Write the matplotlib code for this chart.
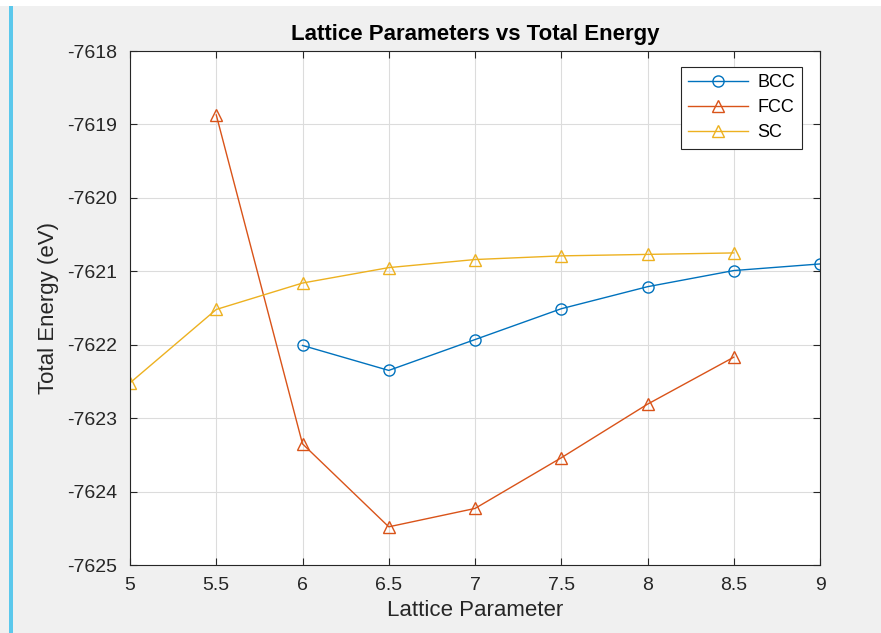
import numpy as np
import matplotlib.pyplot as plt
from matplotlib.patches import Rectangle

plt.rcParams['font.family'] = ['Liberation Sans', 'DejaVu Sans']

lattice = [5, 5.5, 6, 6.5, 7, 7.5, 8, 8.5, 9]
bcc_x = [6, 6.5, 7, 7.5, 8, 8.5, 9]
bcc_e = [-7622.01, -7622.35, -7621.93, -7621.51, -7621.21, -7620.99, -7620.90]
fcc_x = [5.5, 6, 6.5, 7, 7.5, 8, 8.5]
fcc_e = [-7618.87, -7623.35, -7624.48, -7624.23, -7623.54, -7622.81, -7622.17]
sc_x = [5, 5.5, 6, 6.5, 7, 7.5, 8, 8.5]
sc_e = [-7622.52, -7621.52, -7621.16, -7620.95, -7620.84, -7620.79, -7620.77, -7620.75]

yticks = [-7618, -7619, -7620, -7621, -7622, -7623, -7624, -7625]

fig = plt.figure(figsize=(8.81, 6.33), dpi=100)
fig.patch.set_facecolor('white')
# grey matlab window + blue stripe on the left
fig.add_artist(Rectangle((0, 0), 1, 1 - 6 / 633, transform=fig.transFigure,
                         facecolor='#f0f0f0', edgecolor='none', zorder=-10))
fig.add_artist(Rectangle((9 / 881, 0), 4 / 881, 1 - 6 / 633, transform=fig.transFigure,
                         facecolor='#5bc8ec', edgecolor='none', zorder=-9))

ax = fig.add_axes([130 / 881, 68 / 633, 690 / 881, 514 / 633])
ax.set_facecolor('white')

ax.plot(bcc_x, bcc_e, '-o', color='#0072BD', mfc='none', ms=8, lw=1, mew=1, label='BCC')
ax.plot(fcc_x, fcc_e, '-^', color='#D95319', mfc='none', ms=8, lw=1, mew=1, label='FCC')
ax.plot(sc_x, sc_e, '-^', color='#EDB120', mfc='none', ms=8, lw=1, mew=1, label='SC')

ax.set_xlim(5, 9)
ax.set_ylim(-7625, -7618)
ax.set_xticks(lattice)
ax.set_xticklabels(['5', '5.5', '6', '6.5', '7', '7.5', '8', '8.5', '9'])
ax.set_yticks(yticks)
ax.set_yticklabels([str(t) for t in yticks])
ax.grid(True, color='#dcdcdc', lw=0.8)
ax.set_axisbelow(True)
ax.tick_params(direction='in', length=5, top=True, right=True, labelsize=14,
               colors='#262626', pad=9)
for s in ax.spines.values():
    s.set_color('#262626')
    s.set_linewidth(0.8)

ax.set_title('Lattice Parameters vs Total Energy', fontsize=16, fontweight='bold', pad=8)
ax.set_xlabel('Lattice Parameter', fontsize=16, color='#262626', labelpad=4)
ax.set_ylabel('Total Energy (eV)', fontsize=16, color='#262626', labelpad=6)

leg = ax.legend(loc='upper right', bbox_to_anchor=(0.974, 0.969), borderaxespad=0,
                fancybox=False, edgecolor='#262626', framealpha=1, fontsize=13,
                handlelength=3.3, borderpad=0.4, labelspacing=0.45, handletextpad=0.5)
leg.get_frame().set_linewidth(0.8)

fig.savefig('out.png', dpi=100)
